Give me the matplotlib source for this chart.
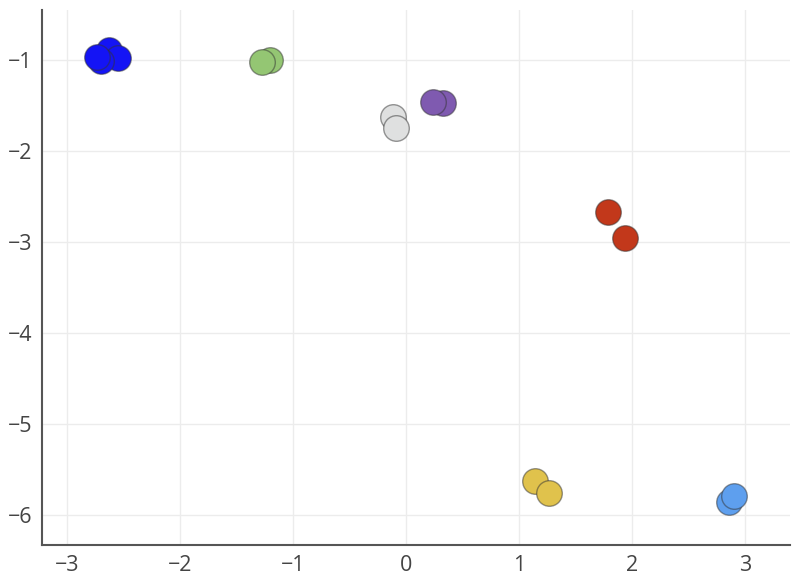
import matplotlib
matplotlib.use("Agg")
import matplotlib.pyplot as plt

# ── DATA ──────────────────────────────────────────────────────────────────────
blue_x = [-2.63, -2.55, -2.70, -2.73]
blue_y = [-0.89, -0.98, -1.01, -0.97]
green_x = [-1.20, -1.27]
green_y = [-1.00, -1.02]
grey_x = [-0.11, -0.09]
grey_y = [-1.62, -1.75]
purple_x = [0.33, 0.24]
purple_y = [-1.47, -1.46]
red_x = [1.79, 1.94]
red_y = [-2.67, -2.95]
yellow_x = [1.14, 1.27]
yellow_y = [-5.63, -5.76]
lblue_x = [2.86, 2.90]
lblue_y = [-5.86, -5.79]

x_ticks = [-3, -2, -1, 0, 1, 2, 3]
y_ticks = [-1, -2, -3, -4, -5, -6]
# ─────────────────────────────────────────────────────────────────────────────

groups = [
    (blue_x, blue_y, "#1414f5"),
    (green_x, green_y, "#94c673"),
    (grey_x, grey_y, "#dfe0e0"),
    (purple_x, purple_y, "#7f5ab0"),
    (red_x, red_y, "#c2381b"),
    (yellow_x, yellow_y, "#e0c24c"),
    (lblue_x, lblue_y, "#5e9fee"),
]

plt.rcParams["font.family"] = ["Open Sans", "DejaVu Sans"]

fig = plt.figure(figsize=(8, 5.82), dpi=100)
ax = fig.add_axes([0.0525, 0.0636, 0.935, 0.919])

for xs, ys, col in groups:
    ax.scatter(xs, ys, s=340, c=col, edgecolors=(0.2, 0.2, 0.2, 0.5),
               linewidths=1.0, zorder=3)

ax.set_xlim(-3.22, 3.40)
ax.set_ylim(-6.33, -0.45)
ax.set_xticks(x_ticks)
ax.set_yticks(y_ticks)
ax.set_xticklabels([str(t).replace("-", "\u2212") for t in x_ticks])
ax.set_yticklabels([str(t).replace("-", "\u2212") for t in y_ticks])

ax.grid(True, color="#ececec", linewidth=1.0, zorder=0)
ax.set_axisbelow(True)
for side in ["top", "right"]:
    ax.spines[side].set_visible(False)
for side in ["left", "bottom"]:
    ax.spines[side].set_color("#555555")
    ax.spines[side].set_linewidth(1.5)
ax.tick_params(length=0, labelsize=15.5, labelcolor="#444444", pad=7)

fig.savefig("out.png", dpi=100)
